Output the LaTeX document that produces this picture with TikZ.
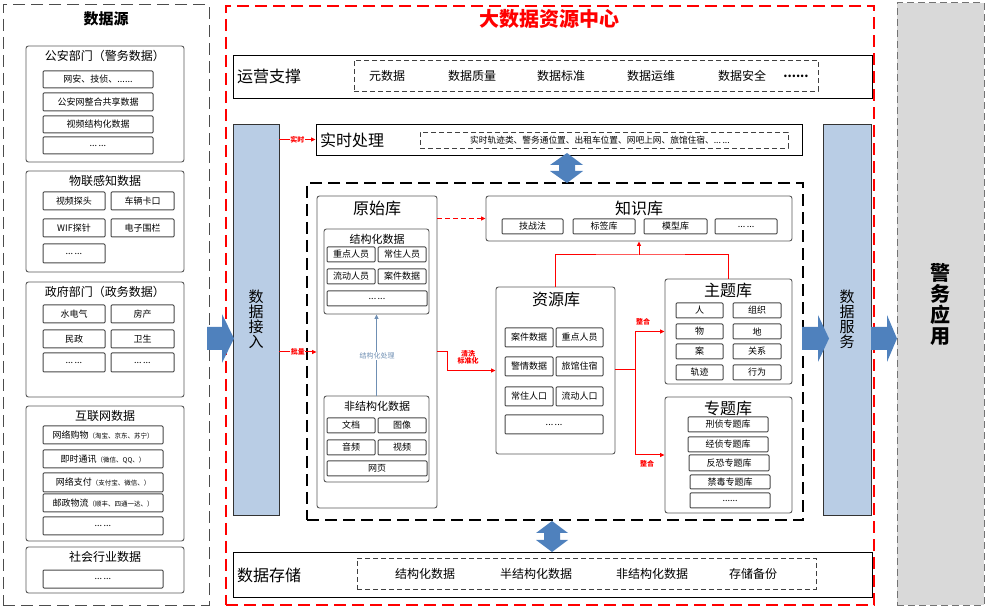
\documentclass[tikz,border=0pt]{standalone}
\usepackage{fontspec}
\setmainfont{Noto Sans CJK SC}
\usetikzlibrary{arrows.meta}
\definecolor{barblue}{HTML}{B9CDE5}
\definecolor{arrblue}{HTML}{4F81BD}
\definecolor{lgray}{HTML}{D9D9D9}
\definecolor{redc}{HTML}{FF0000}
\definecolor{procblue}{HTML}{6F8FB3}
\newcommand{\fsz}[1]{\fontsize{#1}{#1}\selectfont}
\newcommand{\dd}{...\,...}
\newcommand{\bx}[7]{\node[#1,minimum width={#4pt-#2pt},minimum height={#5pt-#3pt}] (#6) at ({(#2+#4)/2},{(#3+#5)/2}) {#7};}
\tikzset{
  grp/.style={draw=black!65, line width=0.9pt, rounded corners=2.5pt, inner sep=0pt},
  ibox/.style={draw=black!72, line width=1pt, rounded corners=1pt, inner sep=1pt, font=\fsz{9}},
  ttl/.style={inner sep=0pt, font=\fsz{12}},
  subttl/.style={inner sep=0pt, font=\fsz{11}},
  bigttl/.style={inner sep=0pt, font=\fsz{16}},
  itm/.style={inner sep=0pt, font=\fsz{12}},
  dbox/.style={draw=black!75, dash pattern=on 5pt off 3pt, line width=0.8pt},
  plainbox/.style={draw=black, line width=0.9pt},
  bigdash/.style={dash pattern=on 12pt off 6pt, line width=1.2pt},
  bar/.style={draw=black!80, fill=barblue, line width=0.8pt, align=center, font=\fsz{15}, inner sep=0pt},
  redarr/.style={draw=redc, line width=1pt, -{Triangle[length=4.5pt,width=4pt]}},
  redln/.style={draw=redc, line width=1pt},
  tag/.style={text=redc, font=\bfseries\fsz{7}, fill=white, inner sep=0.5pt, align=center},
  blk/.style={fill=arrblue, draw=none}
}
\begin{document}
\begin{tikzpicture}[x=1pt,y=-1pt]
\useasboundingbox (0,0) rectangle (986,609);
% ---------------- data sources ----------------
\bx{draw=black!70, bigdash, line width=1pt}{3}{5}{209}{605}{src}{}
\node[inner sep=0pt, font=\bfseries\fsz{15}] (srct) at (106,19) {数据源};
% group 1
\bx{grp}{26}{46}{184}{162}{g1}{}
\node[ttl] (g1t) at (105,56) {公安部门（警务数据）};
\bx{ibox}{43}{71}{153}{88}{g1a}{网安、技侦、......}
\bx{ibox}{43}{93}{153}{111}{g1b}{公安网整合共享数据}
\bx{ibox}{43}{116}{153}{133}{g1c}{视频结构化数据}
\bx{ibox}{43}{137}{153}{154}{g1d}{\dd}
% group 2
\bx{grp}{26}{171}{184}{272}{g2}{}
\node[ttl] (g2t) at (105,181) {物联感知数据};
\bx{ibox}{43}{192}{105}{210}{g2a}{视频探头}
\bx{ibox}{111}{192}{174}{210}{g2b}{车辆卡口}
\bx{ibox}{43}{219}{105}{237}{g2c}{WIF探针}
\bx{ibox}{111}{219}{174}{237}{g2d}{电子围栏}
\bx{ibox}{43}{244}{105}{263}{g2e}{\dd}
% group 3
\bx{grp}{26}{282}{184}{397}{g3}{}
\node[ttl] (g3t) at (105,292) {政府部门（政务数据）};
\bx{ibox}{43}{305}{105}{323}{g3a}{水电气}
\bx{ibox}{111}{305}{174}{323}{g3b}{房产}
\bx{ibox}{43}{330}{105}{348}{g3c}{民政}
\bx{ibox}{111}{330}{174}{348}{g3d}{卫生}
\bx{ibox}{43}{353}{105}{372}{g3e}{\dd}
\bx{ibox}{111}{353}{174}{372}{g3f}{\dd}
% group 4
\bx{grp}{26}{406}{184}{541}{g4}{}
\node[ttl] (g4t) at (105,416) {互联网数据};
\bx{ibox}{43}{426}{163}{444}{g4a}{网络购物{\fsz{6.5}（淘宝、京东、苏宁）}}
\bx{ibox}{43}{450}{163}{468}{g4b}{即时通讯{\fsz{6.5}（微信、QQ、）}}
\bx{ibox}{43}{473}{163}{492}{g4c}{网络支付{\fsz{6.5}（支付宝、微信、）}}
\bx{ibox}{43}{494}{163}{512}{g4d}{邮政物流{\fsz{6.5}（顺丰、四通一达、）}}
\bx{ibox}{43}{517}{163}{535}{g4e}{\dd}
% group 5
\bx{grp}{26}{547}{184}{593}{g5}{}
\node[ttl] (g5t) at (105,557) {社会行业数据};
\bx{ibox}{43}{570}{163}{588}{g5a}{\dd}
% ---------------- centre ----------------
\bx{draw=redc, bigdash}{226}{6}{874}{605}{centre}{}
\node[inner sep=0pt, text=redc, font=\bfseries\fsz{20}] (centret) at (549,19) {大数据资源中心};
% app
\bx{draw=black!55, fill=lgray, dash pattern=on 7pt off 4pt, line width=1pt, align=center, font=\bfseries\fontsize{20}{21}\selectfont, inner sep=0pt}{897}{3}{984}{605}{app}{警\\务\\应\\用}
% operations
\bx{plainbox}{233}{55}{872}{98}{ops}{}
\node[bigttl, anchor=west] (opst) at (237,76) {运营支撑};
\bx{dbox}{354}{60}{818}{91}{opsd}{}
\node[itm] (o1) at (387,76) {元数据};
\node[itm] (o2) at (472,76) {数据质量};
\node[itm] (o3) at (561,76) {数据标准};
\node[itm] (o4) at (651,76) {数据运维};
\node[itm] (o5) at (742,76) {数据安全};
\node[itm, font=\bfseries\fsz{12}] (o6) at (796,76) {......};
% real time
\bx{plainbox}{316}{124}{802}{155}{shishi}{}
\node[bigttl, anchor=west] (shishit) at (320,140) {实时处理};
\bx{dbox}{420}{132}{788}{148}{shishid}{}
\node[inner sep=0pt, font=\fsz{8.7}] (shishix) at (600,140) {实时轨迹类、警务通位置、出租车位置、网吧上网、旅馆住宿、\dd};
% bars
\bx{bar}{233}{124}{279}{515}{jieru}{数\\据\\接\\入}
\bx{bar}{823}{124}{871}{515}{fuwu}{数\\据\\服\\务}
% middle dashed box
\bx{draw=black, bigdash}{307}{183}{803}{520}{mid}{}
% raw store
\bx{grp}{317}{196}{437}{508}{yuanshi}{}
\node[bigttl] (yuanshit) at (377,208) {原始库};
\bx{grp}{324}{229}{429}{314}{jiegou}{}
\node[subttl] (jiegout) at (377,239) {结构化数据};
\bx{ibox}{327}{247}{375}{262}{j1}{重点人员}
\bx{ibox}{378}{247}{426}{262}{j2}{常住人员}
\bx{ibox}{327}{269}{375}{284}{j3}{流动人员}
\bx{ibox}{378}{269}{426}{284}{j4}{案件数据}
\bx{ibox}{327}{291}{427}{306}{j5}{\dd}
\bx{grp}{324}{396}{429}{482}{feijg}{}
\node[subttl] (feijgt) at (377,406) {非结构化数据};
\bx{ibox}{327}{418}{375}{433}{f1}{文档}
\bx{ibox}{378}{418}{426}{433}{f2}{图像}
\bx{ibox}{327}{440}{375}{455}{f3}{音频}
\bx{ibox}{378}{440}{426}{455}{f4}{视频}
\bx{ibox}{327}{461}{427}{476}{f5}{网页}
% knowledge
\bx{grp}{486}{196}{792}{241}{zhishi}{}
\node[bigttl] (zhishit) at (639,208) {知识库};
\bx{ibox}{502}{219}{563}{234}{k1}{技战法}
\bx{ibox}{573}{219}{635}{234}{k2}{标签库}
\bx{ibox}{644}{219}{707}{234}{k3}{模型库}
\bx{ibox}{715}{219}{777}{234}{k4}{\dd}
% resource
\bx{grp}{496}{287}{615}{454}{ziyuan}{}
\node[bigttl] (ziyuant) at (556,299) {资源库};
\bx{ibox}{505}{328}{553}{347}{z1}{案件数据}
\bx{ibox}{556}{328}{603}{347}{z2}{重点人员}
\bx{ibox}{505}{357}{553}{376}{z3}{警情数据}
\bx{ibox}{556}{357}{603}{376}{z4}{旅馆住宿}
\bx{ibox}{505}{387}{553}{406}{z5}{常住人口}
\bx{ibox}{556}{387}{603}{406}{z6}{流动人口}
\bx{ibox}{505}{415}{603}{434}{z7}{\dd}
% theme
\bx{grp}{665}{279}{792}{384}{zhuti}{}
\node[bigttl] (zhutit) at (728,290) {主题库};
\bx{ibox}{676}{303}{723}{318}{t1}{人}
\bx{ibox}{733}{303}{781}{318}{t2}{组织}
\bx{ibox}{676}{324}{723}{339}{t3}{物}
\bx{ibox}{733}{324}{781}{339}{t4}{地}
\bx{ibox}{676}{344}{723}{359}{t5}{案}
\bx{ibox}{733}{344}{781}{359}{t6}{关系}
\bx{ibox}{676}{365}{723}{380}{t7}{轨迹}
\bx{ibox}{733}{365}{781}{380}{t8}{行为}
% special
\bx{grp}{665}{397}{792}{513}{zhuanti}{}
\node[bigttl] (zhuantit) at (728,408) {专题库};
\bx{ibox}{688}{417}{768}{432}{s1}{刑侦专题库}
\bx{ibox}{688}{437}{768}{452}{s2}{经侦专题库}
\bx{ibox}{689}{455}{769}{471}{s3}{反恐专题库}
\bx{ibox}{690}{475}{770}{489}{s4}{禁毒专题库}
\bx{ibox}{690}{493}{770}{508}{s5}{......}
% storage
\bx{plainbox}{233}{552}{872}{597}{cunchu}{}
\node[bigttl, anchor=west] (cunchut) at (237,575) {数据存储};
\bx{dbox}{357}{558}{816}{589}{cunchud}{}
\node[itm] (c1) at (425,574) {结构化数据};
\node[itm] (c2) at (536,574) {半结构化数据};
\node[itm] (c3) at (652,574) {非结构化数据};
\node[itm] (c4) at (753,574) {存储备份};
% ---------------- connectors ----------------
\draw[redarr] (jieru.east |- shishi.west) -- node[tag] {实时} (shishi.west);
\draw[redarr] (jieru.east |- yuanshi.west) -- node[tag] {批量} (yuanshi.west);
\draw[redarr, dash pattern=on 5pt off 3pt] (yuanshi.east |- zhishi.west) -- (zhishi.west);
\draw[redarr] (yuanshi.east) -- ++(10,0) coordinate (qx) |- (ziyuan.west);
\node[tag, fill=none] (qxt) at (468,357) {清洗\\标准化};
\draw[draw=procblue, line width=0.8pt, -{Triangle[length=4.5pt,width=4pt]}] (feijg.north) -- (jiegou.south);
\node[inner sep=0.5pt, fill=white, text=procblue, font=\fsz{7}] (proct) at (377,356) {结构化处理};
\coordinate (hub) at (635,370);
\draw[redln] (ziyuan.east |- hub) -- (hub);
\draw[redarr] (hub) |- (zhuti.west);
\draw[redarr] (hub) |- (zhuanti.west);
\node[tag, fill=none] (zh1) at (643,322) {整合};
\node[tag, fill=none] (zh2) at (647,464) {整合};
\coordinate (kj) at (639,255);
\draw[redln] (ziyuan.north) |- (kj) -| (zhuti.north);
\draw[redarr] (kj) -- (zhishi.south);
% block arrows
\fill[blk] (207,327) -- (222,327) -- (222,314) -- (234,338.5) -- (222,363) -- (222,350) -- (207,350) -- cycle;
\fill[blk] (802,327) -- (818,327) -- (818,315) -- (829,338.5) -- (818,362) -- (818,350) -- (802,350) -- cycle;
\fill[blk] (871,327) -- (887,327) -- (887,315) -- (897,338.5) -- (887,362) -- (887,350) -- (871,350) -- cycle;
\fill[blk] (567,153) -- (583,165) -- (575,165) -- (575,171) -- (583,171) -- (567,183) -- (550,171) -- (559,171) -- (559,165) -- (550,165) -- cycle;
\fill[blk] (552,521) -- (568,533) -- (560,533) -- (560,540) -- (568,540) -- (552,552) -- (536,540) -- (544,540) -- (544,533) -- (536,533) -- cycle;
\end{tikzpicture}
\end{document}
